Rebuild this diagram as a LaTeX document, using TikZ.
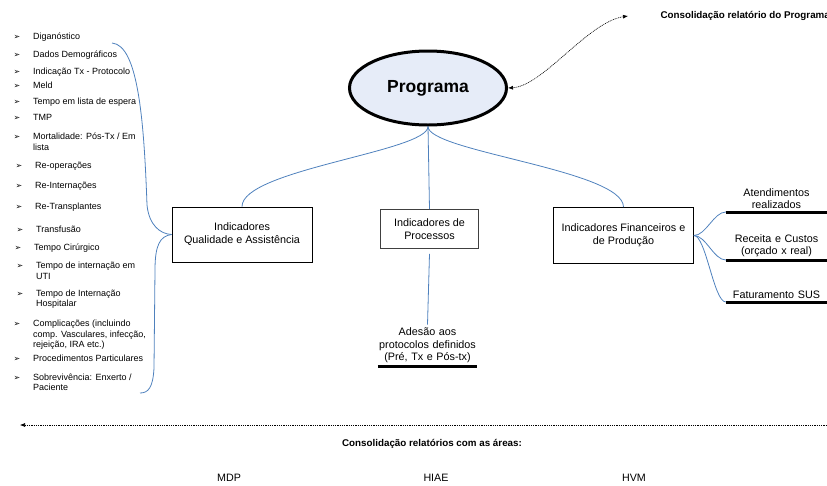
\documentclass[tikz,border=0pt]{standalone}
\usepackage{fontspec}
\setmainfont{Liberation Sans}
\newfontfamily\symfont{DejaVu Sans}
\usetikzlibrary{shapes.geometric,arrows.meta}
\definecolor{progfill}{RGB}{230,236,248}
\definecolor{linkblue}{RGB}{79,129,189}
\tikzset{box/.style={draw,line width=0.8pt,align=center,
                     font=\fontsize{10.8}{13}\selectfont}}
\tikzset{program/.style={ellipse,draw,line width=3pt,fill=progfill,
                     minimum width=157pt,minimum height=74pt,
                     font=\fontsize{17.5}{20}\selectfont\bfseries}}
\tikzset{branch/.style={draw=linkblue,line width=0.8pt}}
\tikzset{leaf/.style={align=center,inner xsep=0pt,inner ysep=3pt,anchor=south,
                     font=\fontsize{10.8}{12.5}\selectfont}}
\tikzset{bar/.style={line width=3pt}}
\tikzset{item/.style={anchor=base west,align=left,inner sep=0pt,
                     font=\fontsize{9}{10.5}\selectfont}}
\tikzset{bullet/.style={anchor=base,inner sep=0pt,
                     font=\symfont\fontsize{8}{8}\selectfont}}
\tikzset{report/.style={font=\fontsize{9.8}{12}\selectfont\bfseries}}
\tikzset{area/.style={font=\fontsize{10.7}{12}\selectfont}}
\tikzset{link/.style={line width=0.6pt,dash pattern=on 1pt off 0.8pt}}

\begin{document}
\begin{tikzpicture}[x=1pt,y=-1pt]
    \useasboundingbox (0,0) rectangle (827,485);
    % Central node
    \node[program] (prog) at (428,88) {Programa};
    % Report of the programme
    \node[report,anchor=west] (toprep) at (657,16) {Consolidação relatório do Programa};
    \coordinate (reptip) at (628,16);
    \draw[link,{Latex[length=5pt,width=4pt]}-{Latex[length=5pt,width=4pt]}]
        (prog.east) .. controls +(35,-2) and +(-40,6) .. (reptip);
    % Three groups of indicators
    \node[box,minimum width=140pt,minimum height=55pt] (qual) at (242,234.5)
        {Indicadores\\Qualidade e Assistência};
    \node[box,draw=black!75,minimum width=98pt,minimum height=39pt] (proc) at (429.5,229)
        {Indicadores de\\Processos};
    \node[box,minimum width=140pt,minimum height=56pt] (fin) at (623.5,235.5)
        {Indicadores Financeiros e\\de Produção};
    \draw[branch] (prog.south) .. controls +(0,25) and +(0,-37) .. (qual.north);
    \draw[branch] (prog.south) -- (proc.north);
    \draw[branch] (prog.south) .. controls +(0,25) and +(0,-37) .. (fin.north);
    % Process indicator
    \node[leaf,text width=99pt] (ades) at (427.5,366)
        {Adesão aos\\protocolos definidos\\(Pré, Tx e Pós-tx)};
    \draw[bar] (ades.south west) -- (ades.south east);
    \draw[branch] ([yshift=-5pt]proc.south) -- (ades.north);
    % Financial indicators
    \node[leaf,text width=101pt] (atend) at (776.5,212) {Atendimentos\\realizados};
    \node[leaf,text width=101pt] (custo) at (776.5,260) {Receita e Custos\\(orçado x real)};
    \node[leaf,text width=101pt] (fatur) at (776.5,302) {Faturamento SUS};
    \foreach \n in {atend,custo,fatur}{%
        \draw[bar] (\n.south west) -- (\n.south east);
        \draw[branch] (fin.east) .. controls +(12,0) and +(-12,0) .. (\n.south west);
    }
    % List of quality indicators (y = baseline of the last line, l = extra lines)
    \foreach \x/\y/\l/\txt [count=\i] in {33/39/0/Diganóstico, 33/57/0/Dados Demográficos,
        33/74/0/Indicação Tx - Protocolo, 33/88.5/0/Meld, 33/104/0/Tempo em lista de espera,
        33/120/0/TMP, 33/150/1/{Mortalidade: Pós-Tx / Em\\lista}, 35/168/0/Re-operações,
        35/188/0/Re-Internações, 35/209.5/0/Re-Transplantes, 36/232.5/0/Transfusão,
        34/250.5/0/Tempo Cirúrgico, 36/279/1/{Tempo de internação em\\UTI},
        36/306.5/1/{Tempo de Internação\\Hospitalar},
        33/347.5/2/{Complicações (incluindo\\comp. Vasculares, infecção,\\rejeição, IRA etc.)},
        33/361.5/0/Procedimentos Particulares, 33/390.5/1/{Sobrevivência: Enxerto /\\Paciente}}{%
        \node[item] (ind\i) at (\x,\y) {\txt};
        \node[bullet] (bul\i) at (\x-16,\y-\l*10.5) {➢};
    }
    % Brace joining the list to its box
    \coordinate (bracetop) at (112,43);
    \coordinate (bracebot) at (140,393);
    \draw[branch] (bracetop) .. controls (138,45) and (144,120) .. (147,205)
        .. controls (149,225) and (160,234) .. (qual.west);
    \draw[branch] (qual.west) .. controls (160,236) and (155,245) .. (155,270)
        -- (154,368) .. controls (153,388) and (148,393) .. (bracebot);
    % Reports with the areas
    \coordinate (areaend) at (829,425);
    \coordinate (areatip) at (20,425);
    \draw[link,-{Latex[length=5pt,width=4pt]}] (areaend) -- (areatip);
    \node[report] (areas) at (432,444) {Consolidação relatórios com as áreas:};
    \node[area] (mdp) at (229,478) {MDP};
    \node[area] (hiae) at (436,478) {HIAE};
    \node[area] (hvm) at (634,478) {HVM};
\end{tikzpicture}
\end{document}
